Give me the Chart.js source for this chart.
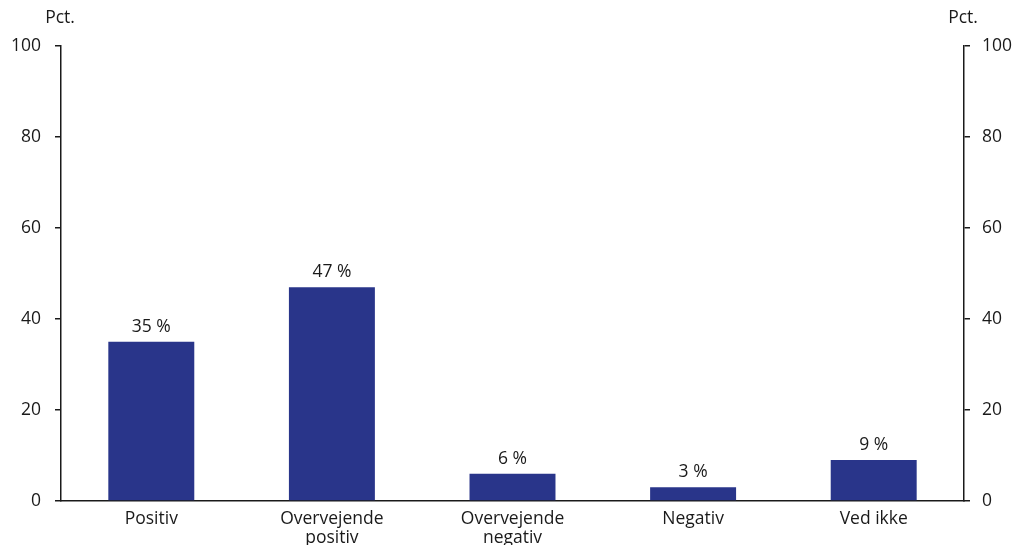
<!DOCTYPE html>
<html>
<head>
<meta charset="utf-8">
<script src="https://cdn.jsdelivr.net/npm/chart.js@4"></script>
<style>
html,body{margin:0;padding:0;background:#fff;}
#wrap{width:1014px;height:545px;position:relative;}
</style>
</head>
<body>
<div id="wrap"><canvas id="c" width="1014" height="545"></canvas></div>
<script>
const categories = [["Positiv"], ["Overvejende", "positiv"], ["Overvejende", "negativ"], ["Negativ"], ["Ved ikke"]];
const values = [35, 47, 6, 3, 9];
const valueLabels = ["35 %", "47 %", "6 %", "3 %", "9 %"];
const unitLabel = "Pct.";

const FONT = "'Open Sans', Lato, sans-serif";
const TXT = "#1a1a1a";
const FS = 17.5;

const overlay = {
  id: 'overlay',
  afterDatasetsDraw(chart) {
    const ctx = chart.ctx;
    const meta = chart.getDatasetMeta(0);
    ctx.save();
    ctx.fillStyle = TXT;
    ctx.font = FS + "px " + FONT;
    ctx.textAlign = "center";
    ctx.textBaseline = "middle";
    meta.data.forEach((bar, i) => {
      ctx.fillText(valueLabels[i], bar.x, bar.y - 15);
    });
    ctx.fillText(unitLabel, 60, 18);
    ctx.fillText(unitLabel, 963, 18);
    ctx.restore();
  }
};

new Chart(document.getElementById('c'), {
  type: 'bar',
  data: {
    labels: categories,
    datasets: [{
      data: values,
      backgroundColor: '#29358a',
      borderWidth: 0,
      categoryPercentage: 1,
      barPercentage: 0.476
    }]
  },
  options: {
    responsive: false,
    animation: false,
    layout: { padding: { top: 46, left: 0, right: 0, bottom: 0 } },
    plugins: { legend: { display: false }, tooltip: { enabled: false } },
    scales: {
      x: {
        grid: { display: false, drawTicks: false },
        border: { display: true, color: '#1a1a1a', width: 1.5 },
        ticks: { color: TXT, font: { family: FONT, size: FS, lineHeight: 1.05 }, padding: 9, maxRotation: 0, autoSkip: false },
        afterFit(s) { s.height = 44; }
      },
      y: {
        position: 'left',
        min: 0, max: 100,
        ticks: { stepSize: 20, color: TXT, font: { family: FONT, size: FS }, padding: 14 },
        grid: { drawOnChartArea: false, drawTicks: true, tickLength: 6, color: '#1a1a1a', lineWidth: 1.5 },
        border: { display: true, color: '#1a1a1a', width: 1.5 },
        afterFit(s) { s.width = 61; }
      },
      y2: {
        position: 'right',
        min: 0, max: 100,
        ticks: { stepSize: 20, color: TXT, font: { family: FONT, size: FS }, padding: 12 },
        grid: { drawOnChartArea: false, drawTicks: true, tickLength: 6, color: '#1a1a1a', lineWidth: 1.5 },
        border: { display: true, color: '#1a1a1a', width: 1.5 },
        afterFit(s) { s.width = 50; }
      }
    }
  },
  plugins: [overlay]
});
</script>
</body>
</html>
